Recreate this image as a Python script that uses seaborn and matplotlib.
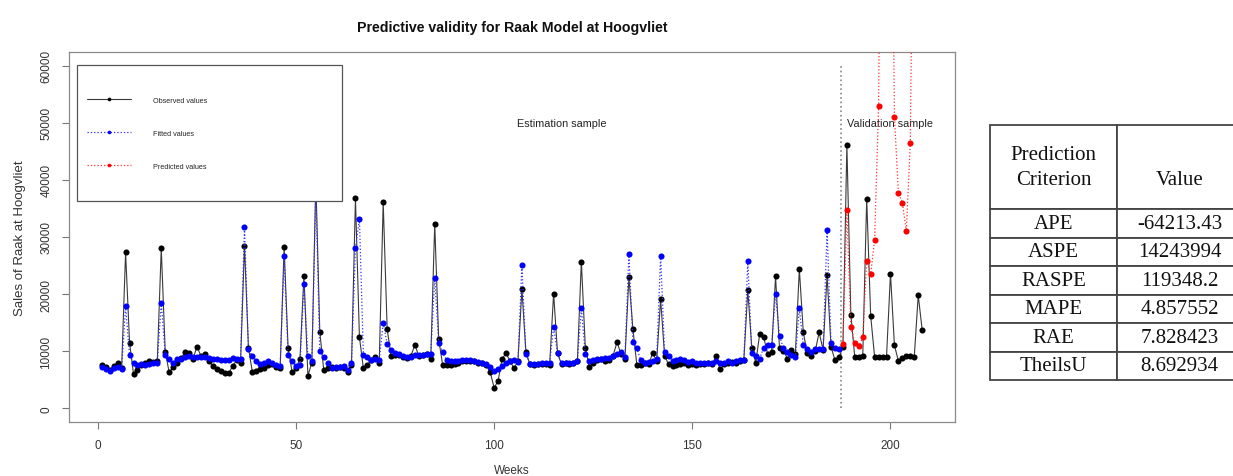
import matplotlib
matplotlib.use("Agg")
import matplotlib.pyplot as plt
import numpy as np
import pandas as pd
import seaborn as sns
from matplotlib.patches import Rectangle


# weekly sales
OBSERVED = [
    7500, 7300, 6700, 7400, 7900, 7000, 27300, 11500, 6000, 6700,
    7500, 7900, 8300, 8100, 8300, 28000, 9900, 6300, 7200, 8000,
    8800, 9800, 9600, 8600, 10800, 9200, 9500, 8300, 7400, 6900,
    6500, 6200, 6100, 7400, 8400, 7900, 28500, 10600, 6300, 6600,
    6900, 7000, 7500, 7700, 7300, 7000, 28200, 10600, 6400, 7000,
    8700, 23200, 5700, 8000, 40000, 13400, 6700, 7000, 7300, 7000,
    7300, 7000, 6300, 7600, 36800, 12500, 7000, 7600, 8500, 8900,
    8000, 36100, 13900, 9100, 9400, 9300, 9000, 8800, 9200, 11100,
    9100, 9400, 9500, 8700, 32300, 12100, 7600, 7500, 7600, 7800,
    8000, 8200, 8300, 8200, 8200, 8000, 7900, 7600, 6300, 3600,
    4800, 8700, 9600, 8300, 7000, 8300, 20900, 9900, 7700, 7600,
    7700, 7800, 7800, 7600, 20100, 9600, 7700, 7900, 7800, 7900,
    8300, 25700, 10600, 7300, 8000, 8500, 8700, 8300, 8500, 9200,
    11600, 9500, 8700, 23000, 13900, 7600, 7500, 8000, 7700, 9700,
    8200, 19100, 9200, 7700, 7400, 7600, 7800, 7900, 7500, 7700,
    7600, 7700, 7800, 8000, 7700, 9100, 6800, 7800, 8000, 8100,
    7900, 8200, 8500, 20700, 10600, 8000, 13000, 12500, 9500, 9800,
    23100, 10500, 10100, 8700, 10200, 9500, 24400, 13300, 9600, 9200,
    10000, 13300, 10200, 23300, 10800, 8400, 8900, 10800, 46100, 16400,
    8900, 9000, 9100, 36700, 16200, 9000, 9000, 9000, 9000, 23600,
    11000, 8300, 8800, 9100, 9100, 9000, 19800, 13700,
]

FITTED = [
    7300, 6800, 6500, 7000, 7200, 6800, 17900, 9300, 7900, 7500,
    7700, 7600, 7800, 7900, 8000, 18500, 9300, 8600, 8000, 8600,
    8700, 9000, 9100, 8900, 8900, 9000, 8900, 8800, 8600, 8600,
    8500, 8500, 8400, 8800, 8700, 8600, 31800, 10300, 9100, 8300,
    7800, 8000, 8300, 7900, 7600, 7400, 26600, 9300, 8300, 7400,
    7600, 21800, 9100, 8200, 38000, 10100, 8900, 7900, 7000, 7200,
    7200, 7400, 6700, 8000, 28000, 33200, 9300, 8900, 8500, 8700,
    8400, 15000, 11300, 10200, 9700, 9500, 9100, 9000, 9000, 9300,
    9300, 9400, 9500, 9500, 22900, 11500, 9800, 8400, 8200, 8300,
    8300, 8400, 8400, 8400, 8300, 8100, 7900, 7700, 7200, 6600,
    6900, 7400, 8000, 8300, 8400, 8100, 25100, 9500, 7800, 7800,
    7800, 8000, 8000, 7900, 14200, 9600, 8000, 8000, 8000, 8000,
    8300, 17500, 9500, 8300, 8500, 8600, 8700, 8800, 8800, 9100,
    9500, 9800, 8900, 27100, 11600, 10500, 8400, 8000, 8100, 8300,
    8700, 26700, 9900, 9200, 8300, 8500, 8600, 8500, 8100, 8200,
    8000, 7900, 8000, 8000, 8000, 8300, 8000, 8000, 8200, 7900,
    8200, 8400, 8400, 25800, 9700, 9200, 8700, 10600, 11100, 11000,
    20100, 12700, 10500, 9900, 9400, 9000, 17500, 11000, 10300, 9800,
    10300, 10300, 10400, 31200, 11500, 10600, 10300,
]

# validation weeks 188..208
PREDICTED = [
    11200, 34700, 14200, 11400, 10900, 12400, 25800, 23500, 29500, 52900,
    130000, 140000, 120000, 51100, 37700, 36000, 31000, 46500, 110000, 120000,
    130000,
]

SPLIT_WEEK = 187.5
CRITERIA = ["APE", "ASPE", "RASPE", "MAPE", "RAE", "TheilsU"]
CRITERIA_VALUES = ["-64213.43", "14243994", "119348.2", "4.857552", "7.828423", "8.692934"]

W, H = 1233, 477


def main():
    sns.set_style("ticks")
    plt.rcParams["font.family"] = ["Liberation Sans", "DejaVu Sans"]

    n_obs = len(OBSERVED)
    n_fit = len(FITTED)
    obs = pd.DataFrame({"week": np.arange(1, n_obs + 1), "sales": OBSERVED})
    fit = pd.DataFrame({"week": np.arange(1, n_fit + 1), "sales": FITTED})
    pred = pd.DataFrame({"week": np.arange(n_fit + 1, n_fit + 1 + len(PREDICTED)), "sales": PREDICTED})

    fig = plt.figure(figsize=(W / 100, H / 100), dpi=100)
    ax = fig.add_axes([69 / W, 1 - 423 / H, (955 - 69) / W, (423 - 53) / H])

    common = dict(ax=ax, x="week", y="sales", estimator=None, sort=False, marker="o",
                  markersize=4.4, markeredgewidth=0)
    sns.lineplot(data=obs, color="#3a3a3a", lw=0.8, markerfacecolor="black",
                 markeredgecolor="black", label="Observed values", zorder=2, **common)
    sns.lineplot(data=fit, color="#3030ff", lw=0.9, ls=":", markerfacecolor="#0000ff",
                 markeredgecolor="#0000ff", label="Fitted values", zorder=3, **common)
    sns.lineplot(data=pred, color="#ff3030", lw=0.9, ls=":", markerfacecolor="#ff0000",
                 markeredgecolor="#ff0000", label="Predicted values", zorder=4, **common)

    ax.vlines(SPLIT_WEEK, 0, 60000, colors="#888888", linestyles=":", lw=1.2, zorder=1)

    ax.set_xlim(-7.28, 216.28)
    ax.set_ylim(-2400, 62400)
    ax.set_xticks([0, 50, 100, 150, 200])
    ax.set_yticks(np.arange(0, 60001, 10000))
    ax.tick_params(axis="both", direction="out", length=5, width=0.8, color="#777777",
                   labelsize=8.5, labelcolor="#333333", pad=7)
    for lab in ax.get_yticklabels():
        lab.set_rotation(90)
        lab.set_va("center")
    for sp in ax.spines.values():
        sp.set_color("#8a8a8a")
        sp.set_linewidth(0.9)
    ax.set_xlabel("")
    ax.set_ylabel("")

    ax.text(117, 50000, "Estimation sample", ha="center", va="center", fontsize=7.8, color="#222222")
    ax.text(200, 50000, "Validation sample", ha="center", va="center", fontsize=7.8, color="#222222")

    # legend box
    ax.add_patch(Rectangle((8 / 886, (423 - 202) / 370), 265 / 886, 136 / 370,
                           transform=ax.transAxes, facecolor="white", edgecolor="#555555",
                           lw=0.9, zorder=6))
    ax.legend(loc="upper left", bbox_to_anchor=((83 - 69) / 886, (423 - 94) / 370),
              frameon=False, fontsize=5.2, handlelength=6.2, handletextpad=3.0,
              labelspacing=3.6, borderpad=0, markerscale=0.6).set_zorder(7)

    fig.text(512 / W, 1 - 28 / H, "Predictive validity for Raak Model at Hoogvliet",
             ha="center", va="center", fontsize=10.2, fontweight="bold", color="#111111")
    fig.text(20 / W, 1 - 238 / H, "Sales of Raak at Hoogvliet", rotation=90,
             ha="center", va="center", fontsize=9.5, color="#333333")
    fig.text(512 / W, 1 - 471 / H, "Weeks", ha="center", va="center", fontsize=8.5, color="#333333")

    # table of prediction criteria
    tax = fig.add_axes([990 / W, 1 - 381 / H, 252 / W, 255 / H])
    tax.axis("off")
    cells = [["Prediction\nCriterion", "\nValue"]] + [[c, v] for c, v in zip(CRITERIA, CRITERIA_VALUES)]
    tbl = tax.table(cellText=cells, cellLoc="center", bbox=[0, 0, 1, 1], colWidths=[127 / 252, 125 / 252])
    tbl.auto_set_font_size(False)
    tbl.set_fontsize(15)
    for (r, c), cell in tbl.get_celld().items():
        cell.set_height(84 / 255 if r == 0 else 28.5 / 255)
        cell.set_linewidth(1.3)
        cell.set_edgecolor("#444444")
        txt = cell.get_text()
        txt.set_fontfamily(["Liberation Serif", "DejaVu Serif"])
        txt.set_color("#111111")
        if r == 0:
            txt.set_linespacing(1.45)

    fig.savefig("out.png", dpi=100)
    plt.close(fig)


if __name__ == "__main__":
    main()
